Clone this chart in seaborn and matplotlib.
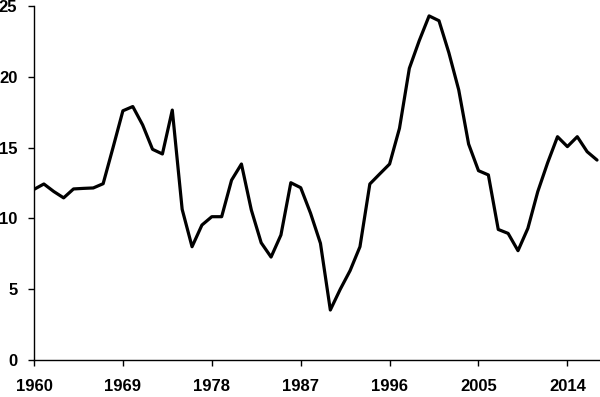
import matplotlib
matplotlib.use("Agg")
import matplotlib.pyplot as plt
import seaborn as sns
import pandas as pd

years = list(range(1960, 2018))
values = [12.05, 12.43, 11.9, 11.45, 12.08, 12.12, 12.15, 12.45, 15.0, 17.6,
          17.9, 16.6, 14.88, 14.55, 17.65, 10.64, 8.0, 9.53, 10.12, 10.12,
          12.7, 13.84, 10.6, 8.28, 7.27, 8.83, 12.52, 12.17, 10.36, 8.24,
          3.53, 4.99, 6.31, 8.0, 12.43, 13.14, 13.84, 16.36, 20.6, 22.55,
          24.3, 23.96, 21.7, 19.07, 15.25, 13.37, 13.07, 9.22, 8.94, 7.72,
          9.3, 11.89, 13.93, 15.77, 15.07, 15.77, 14.71, 14.12]
xticks = [1960, 1969, 1978, 1987, 1996, 2005, 2014]
yticks = [0, 5, 10, 15, 20, 25]

df = pd.DataFrame({"year": years, "value": values})

sns.set_style("ticks")
plt.rcParams["font.family"] = ["Liberation Sans", "DejaVu Sans"]
plt.rcParams["font.weight"] = "bold"

fig = plt.figure(figsize=(6.0, 3.97), dpi=100)
ax = fig.add_axes([34 / 600, 37 / 397, 565 / 600, 354 / 397])
sns.lineplot(data=df, x="year", y="value", ax=ax, color="black", linewidth=2.3)
ax.set_xlim(1960, 2017.2)
ax.set_ylim(0, 25)
ax.set_xticks(xticks)
ax.set_xticklabels([str(t) for t in xticks])
ax.set_yticks(yticks)
ax.set_yticklabels([str(t) for t in yticks])
ax.set_xlabel("")
ax.set_ylabel("")
for s in ["top", "right"]:
    ax.spines[s].set_visible(False)
for s in ["left", "bottom"]:
    ax.spines[s].set_linewidth(1.0)
    ax.spines[s].set_color("black")
ax.tick_params(axis="both", length=4, width=1.0, colors="black", labelsize=12)
ax.tick_params(axis="x", pad=10)
ax.tick_params(axis="y", pad=8)
for lab in ax.get_xticklabels() + ax.get_yticklabels():
    lab.set_fontweight("bold")
fig.savefig("out.png", dpi=100)
